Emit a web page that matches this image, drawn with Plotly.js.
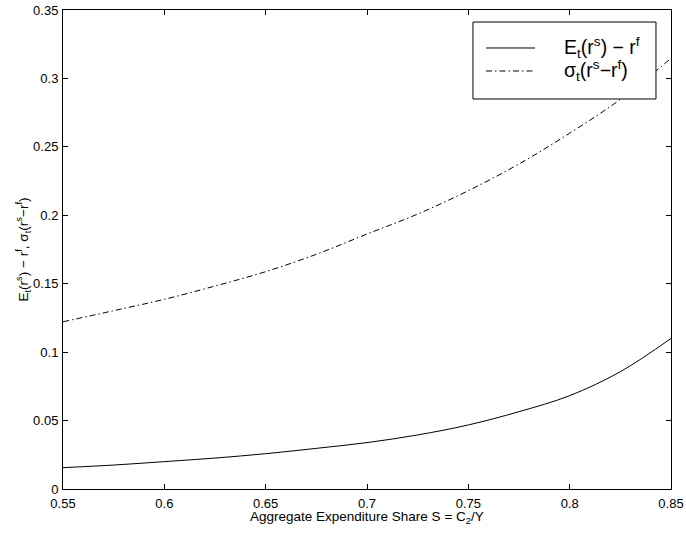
<!DOCTYPE html>
<html>
<head>
<meta charset="utf-8">
<script src="https://cdn.plot.ly/plotly-3.0.1.min.js"></script>
<style>html,body{margin:0;padding:0;background:#fff;}#chart{width:686px;height:536px;}</style>
</head>
<body>
<div id="chart"></div>
<script>
var share = [0.55, 0.575, 0.6, 0.625, 0.65, 0.675, 0.7, 0.725, 0.75, 0.775, 0.8, 0.825, 0.85];
var expectedExcess = [0.0156, 0.0175, 0.0200, 0.0226, 0.0258, 0.0297, 0.0339, 0.0395, 0.0468, 0.0565, 0.0682, 0.0857, 0.110];
var volExcess = [0.1222, 0.1303, 0.1386, 0.1483, 0.1588, 0.1715, 0.1863, 0.2009, 0.2180, 0.2375, 0.2600, 0.2847, 0.3147];
var seriesNames = ['E<sub>t</sub>(r<sup>s</sup>) \u2212 r<sup>f</sup>', '\u03c3<sub>t</sub>(r<sup>s</sup>\u2212r<sup>f</sup>)'];
var seriesDash = ['solid', '6px,3px,1.5px,3px'];
var xTicks = [0.55, 0.6, 0.65, 0.7, 0.75, 0.8, 0.85];
var xTickText = ['0.55', '0.6', '0.65', '0.7', '0.75', '0.8', '0.85'];
var yTicks = [0, 0.05, 0.1, 0.15, 0.2, 0.25, 0.3, 0.35];
var yTickText = ['0', '0.05', '0.1', '0.15', '0.2', '0.25', '0.3', '0.35'];
var xTitle = 'Aggregate Expenditure Share S = C<sub>2</sub>/Y';
var yTitle = 'E<sub>t</sub>(r<sup>s</sup>) \u2212 r<sup>f</sup>, \u03c3<sub>t</sub>(r<sup>s</sup>\u2212r<sup>f</sup>)';

var FONT = 'Liberation Sans, Arial, Helvetica, sans-serif';
var ys = [expectedExcess, volExcess];
var traces = ys.map(function (y, i) {
  return {x: share, y: y, mode: 'lines', type: 'scatter', name: seriesNames[i],
    line: {color: '#000', width: 1, shape: 'spline', dash: seriesDash[i]}};
});

var axisCommon = {
  showline: true, linecolor: '#000', linewidth: 1, mirror: 'ticks',
  ticks: 'inside', ticklen: 5, tickcolor: '#000', tickwidth: 1,
  showgrid: false, zeroline: false,
  tickfont: {family: FONT, size: 13, color: '#000'}
};

// legend box (drawn in paper coordinates)
var box = {x0: 0.6743, x1: 0.9753, y0: 0.8142, y1: 0.9749};
var rowY = [0.9207, 0.8727];
var sampleX = [0.6957, 0.7763];
var textX = 0.8207;
var shapes = [{type: 'rect', xref: 'paper', yref: 'paper', x0: box.x0, x1: box.x1, y0: box.y0, y1: box.y1,
  line: {color: '#000', width: 1}, fillcolor: '#fff', layer: 'above'}];
var annotations = [];
seriesNames.forEach(function (n, i) {
  shapes.push({type: 'line', xref: 'paper', yref: 'paper', x0: sampleX[0], x1: sampleX[1], y0: rowY[i], y1: rowY[i],
    line: {color: '#000', width: 1, dash: seriesDash[i]}, layer: 'above'});
  annotations.push({xref: 'paper', yref: 'paper', x: textX, y: rowY[i], xanchor: 'left', yanchor: 'middle',
    text: n, showarrow: false, font: {family: FONT, size: 19.5, color: '#000'}});
});
annotations.push({xref: 'paper', yref: 'paper', x: 0.5, y: -0.038, xanchor: 'center', yanchor: 'top',
  text: xTitle, showarrow: false, font: {family: FONT, size: 13.5, color: '#000'}});

var layout = {
  width: 686, height: 536,
  margin: {l: 63, r: 15, t: 10, b: 47},
  paper_bgcolor: '#fff', plot_bgcolor: '#fff',
  font: {family: FONT, color: '#000'},
  showlegend: false,
  shapes: shapes,
  annotations: annotations,
  xaxis: Object.assign({}, axisCommon, {
    range: [0.55, 0.85], tickmode: 'array', tickvals: xTicks, ticktext: xTickText,
    ticklabelstandoff: 2
  }),
  yaxis: Object.assign({}, axisCommon, {
    range: [0, 0.35], tickmode: 'array', tickvals: yTicks, ticktext: yTickText,
    ticklabelstandoff: 1,
    title: {text: yTitle, standoff: 1, font: {family: FONT, size: 13.5, color: '#000'}}
  })
};

Plotly.newPlot('chart', traces, layout, {displayModeBar: false, staticPlot: true});
</script>
</body>
</html>
